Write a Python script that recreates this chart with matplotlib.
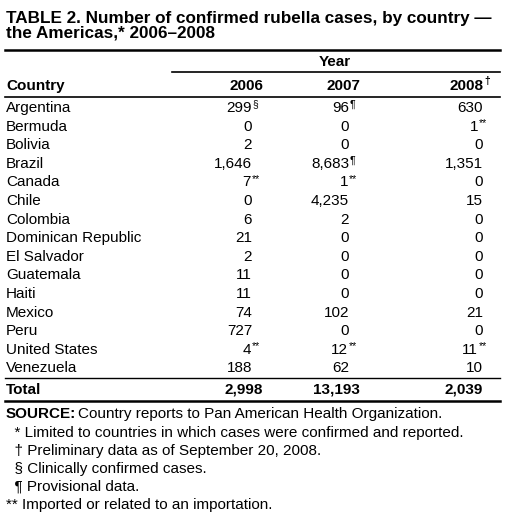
import matplotlib.pyplot as plt

plt.rcParams['font.family'] = ['Liberation Sans', 'DejaVu Sans']

countries = ['Argentina', 'Bermuda', 'Bolivia', 'Brazil', 'Canada', 'Chile', 'Colombia',
             'Dominican Republic', 'El Salvador', 'Guatemala', 'Haiti', 'Mexico', 'Peru',
             'United States', 'Venezuela']
cases_2006 = ['299', '0', '2', '1,646', '7', '0', '6', '21', '2', '11', '11', '74', '727', '4', '188']
cases_2007 = ['96', '0', '0', '8,683', '1', '4,235', '2', '0', '0', '0', '0', '102', '0', '12', '62']
cases_2008 = ['630', '1', '0', '1,351', '0', '15', '0', '0', '0', '0', '0', '21', '0', '11', '10']
notes_2006 = ['§', '', '', '', '**', '', '', '', '', '', '', '', '', '**', '']
notes_2007 = ['¶', '', '', '¶', '**', '', '', '', '', '', '', '', '', '**', '']
notes_2008 = ['', '**', '', '', '', '', '', '', '', '', '', '', '', '**', '']
totals = ['2,998', '13,193', '2,039']
years = ['2006', '2007', '2008']
footnotes = ['  * Limited to countries in which cases were confirmed and reported.',
             '  † Preliminary data as of September 20, 2008.',
             '  § Clinically confirmed cases.',
             '  ¶ Provisional data.',
             '** Imported or related to an importation.']

W, H = 505, 518
fig = plt.figure(figsize=(W / 100, H / 100), dpi=100)
ax = fig.add_axes([0, 0, 1, 1])
ax.set_xlim(0, W)
ax.set_ylim(H, 0)
ax.axis('off')

fs = 11
ax.text(6, 11, 'TABLE 2. Number of confirmed rubella cases, by country —\nthe Americas,* 2006–2008',
        fontsize=12.3, fontweight='bold', va='top', linespacing=1.0)
ax.plot([5, 500], [50, 50], color='black', lw=1.8)
ax.text(335, 62, 'Year', fontsize=fs, fontweight='bold', ha='center', va='center')
ax.plot([172, 500], [72, 72], color='black', lw=1.2)
ax.text(6, 86, 'Country', fontsize=fs, fontweight='bold', va='center')
col_x = [252, 349, 483]
for x, y in zip([263, 360, 483], years):
    ax.text(x, 86, y, fontsize=fs, fontweight='bold', ha='right', va='center')
ax.text(484, 81, '†', fontsize=7.5, fontweight='bold', ha='left', va='center')
ax.plot([5, 500], [97, 97], color='black', lw=1.2)

cols = [(cases_2006, notes_2006), (cases_2007, notes_2007), (cases_2008, notes_2008)]
for i, c in enumerate(countries):
    y = 108 + i * 18.6
    ax.text(6, y, c, fontsize=fs, va='center')
    for x, (vals, notes) in zip(col_x, cols):
        v, n = vals[i], notes[i]
        if n == '**':
            x = (x + 11 if notes is not notes_2008 else x + 7) - 12
        ax.text(x, y, v, fontsize=fs, ha='right', va='center')
        if n:
            ax.text(x + 0.5, y - 3.5, n, fontsize=7.5, ha='left', va='center')

ax.plot([5, 500], [378, 378], color='black', lw=1.0)
ax.text(6, 390, 'Total', fontsize=fs, fontweight='bold', va='center')
for x, t in zip(col_x, totals):
    ax.text(x + (11 if x != 483 else 0), 390, t, fontsize=fs, fontweight='bold', ha='right', va='center')
ax.plot([5, 500], [401, 401], color='black', lw=1.8)

ax.text(6, 414, 'SOURCE:', fontsize=fs, fontweight='bold', va='center')
ax.text(78, 414, 'Country reports to Pan American Health Organization.', fontsize=fs, va='center')
for i, f in enumerate(footnotes):
    ax.text(6, 433 + i * 18, f, fontsize=fs, va='center')

fig.savefig('out.png', dpi=100)
